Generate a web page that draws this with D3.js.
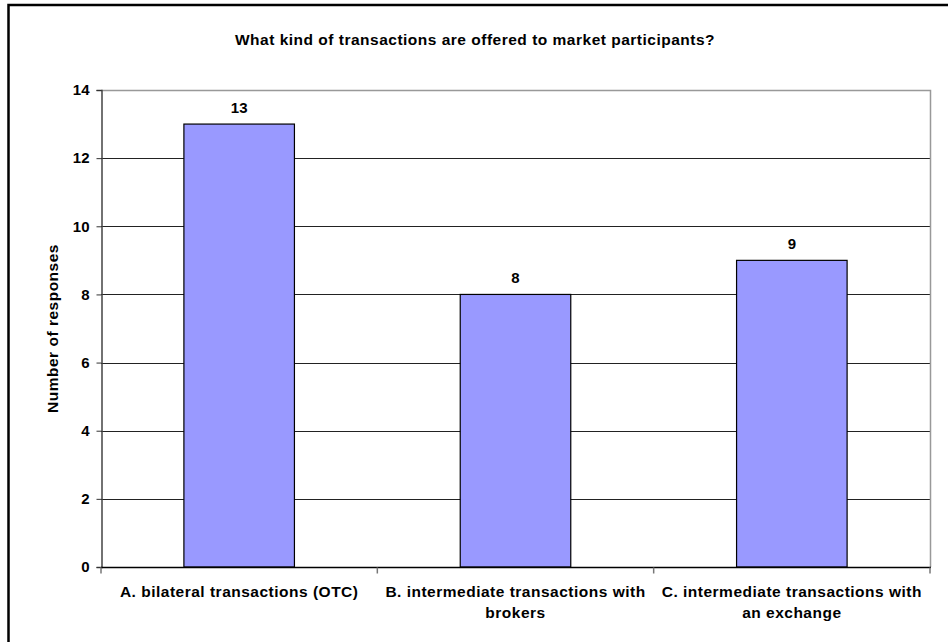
<!DOCTYPE html>
<html>
<head>
<meta charset="utf-8">
<script src="https://cdn.jsdelivr.net/npm/d3@7"></script>
<style>
  html, body { margin: 0; padding: 0; background: #fff; }
  svg { display: block; font-family: Arial, "Liberation Sans", sans-serif; }
</style>
</head>
<body>
<svg id="chart" width="948" height="642"></svg>
<script>
// Survey responses by transaction type
const categories = [
  ["A. bilateral transactions (OTC)"],
  ["B. intermediate transactions with", "brokers"],
  ["C. intermediate transactions with", "an exchange"]
];
const responses = [13, 8, 9];
const yTicks = [0, 2, 4, 6, 8, 10, 12, 14];
const title = "What kind of transactions are offered to market participants?";
const yTitle = "Number of responses";

const svg = d3.select("#chart");
const W = 948, H = 642;
const plot = { left: 101, right: 930, top: 90, bottom: 567 };
const textSize = 15.5, textSpacing = 0.5;

// Outer frame (left and top edges visible)
svg.append("rect")
  .attr("x", 8.5).attr("y", 5)
  .attr("width", W + 20).attr("height", H + 20)
  .attr("fill", "none").attr("stroke", "#000").attr("stroke-width", 2.5);

const x = d3.scaleBand()
  .domain(categories.map((d, i) => i))
  .range([plot.left, plot.right])
  .paddingInner(0).paddingOuter(0);

const y = d3.scaleLinear().domain([0, 14]).range([plot.bottom, plot.top]);

// Horizontal gridlines
svg.append("g")
  .selectAll("line")
  .data(yTicks.filter(t => t > 0 && t < 14))
  .join("line")
  .attr("x1", plot.left).attr("x2", plot.right)
  .attr("y1", d => Math.round(y(d)) + 0.5).attr("y2", d => Math.round(y(d)) + 0.5)
  .attr("stroke", "#222").attr("stroke-width", 1);

// Plot border: top and right in grey
svg.append("path")
  .attr("d", `M${plot.left},${plot.top + 0.5}H${plot.right + 0.5}V${plot.bottom}`)
  .attr("fill", "none").attr("stroke", "#999").attr("stroke-width", 1.5);

// Bars
const barW = x.bandwidth() * 0.4;
svg.append("g")
  .selectAll("rect")
  .data(responses)
  .join("rect")
  .attr("x", (d, i) => x(i) + (x.bandwidth() - barW) / 2)
  .attr("y", d => y(d))
  .attr("width", barW)
  .attr("height", d => y(0) - y(d))
  .attr("fill", "#9999ff")
  .attr("stroke", "#000").attr("stroke-width", 1.2);

// Value labels
svg.append("g")
  .selectAll("text")
  .data(responses)
  .join("text")
  .attr("x", (d, i) => x(i) + x.bandwidth() / 2)
  .attr("y", d => y(d) - 11)
  .attr("text-anchor", "middle")
  .attr("font-size", 15).attr("font-weight", "bold")
  .text(d => d);

// Y axis
const yAxis = svg.append("g")
  .attr("transform", `translate(${plot.left + 0.5},0)`)
  .call(d3.axisLeft(y).tickValues(yTicks).tickSize(5).tickPadding(7).tickFormat(d3.format("d")));
yAxis.select(".domain").attr("stroke", "#444").attr("stroke-width", 1.5);
yAxis.selectAll(".tick line").attr("stroke", "#333");
yAxis.selectAll("text").attr("font-size", 15).attr("font-weight", "bold")
  .attr("font-family", "Arial, 'Liberation Sans', sans-serif").attr("fill", "#000");

// X axis with category separators
const xAxis = svg.append("g")
  .attr("transform", `translate(0,${plot.bottom + 0.5})`);
xAxis.append("line")
  .attr("x1", plot.left).attr("x2", plot.right + 1)
  .attr("stroke", "#000").attr("stroke-width", 1.5);
xAxis.selectAll("line.sep")
  .data(d3.range(categories.length + 1))
  .join("line")
  .attr("class", "sep")
  .attr("x1", i => i < categories.length ? x(i) : plot.right)
  .attr("x2", i => i < categories.length ? x(i) : plot.right)
  .attr("y1", 0).attr("y2", 6)
  .attr("stroke", "#777").attr("stroke-width", 1.5);

// Category labels
const catText = svg.append("g")
  .selectAll("text")
  .data(categories)
  .join("text")
  .attr("text-anchor", "middle")
  .attr("font-size", textSize).attr("font-weight", "bold")
  .attr("letter-spacing", textSpacing)
  .attr("transform", (d, i) => `translate(${x(i) + x.bandwidth() / 2},${plot.bottom + 30})`);
catText.selectAll("tspan")
  .data(d => d)
  .join("tspan")
  .attr("x", 0)
  .attr("dy", (d, i) => i === 0 ? 0 : 21)
  .text(d => d);

// Y axis title
svg.append("text")
  .attr("transform", `translate(58,${(plot.top + plot.bottom) / 2}) rotate(-90)`)
  .attr("text-anchor", "middle")
  .attr("font-size", textSize).attr("font-weight", "bold")
  .attr("letter-spacing", textSpacing)
  .text(yTitle);

// Chart title
svg.append("text")
  .attr("x", 475).attr("y", 45)
  .attr("text-anchor", "middle")
  .attr("font-size", textSize).attr("font-weight", "bold")
  .attr("letter-spacing", textSpacing)
  .text(title);
</script>
</body>
</html>
